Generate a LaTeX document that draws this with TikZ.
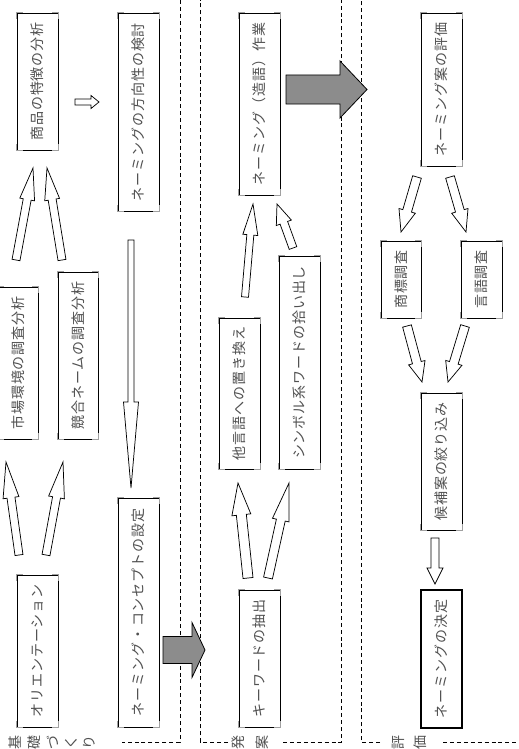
\documentclass[tikz,border=0pt]{standalone}
\usepackage{fontspec}
\usetikzlibrary{calc}
\newfontfamily\jp[LetterSpace=6.5]{Noto Sans CJK JP}
\definecolor{txt}{HTML}{505050}
\definecolor{cornr}{HTML}{A0A0A0}
\definecolor{garrow}{HTML}{8C8C8C}
\tikzset{
  box/.style 2 args={draw=black, line width=0.7pt, fill=white, rotate=90, inner sep=0pt,
    minimum width=#1*0.75pt, minimum height=#2*0.75pt,
    font=\jp\fontsize{10.5}{11}\selectfont, text=txt},
  hollow/.style={draw=black, line width=0.55pt, fill=white, line join=miter},
  solidarr/.style={draw=black, line width=0.6pt, fill=garrow, line join=miter},
  panel/.style={line width=0.6pt, dash pattern=on 3pt off 2.2pt},
  plabel/.style={rotate=90, inner sep=0pt, font=\jp\fontsize{10.5}{11}\selectfont, text=txt},
  cornermark/.style={draw=cornr, line width=1pt},
}
\newcommand\blkarrow[6]{%
  \pgfmathsetmacro\bas{#4*0.75}\pgfmathsetmacro\baw{#5*0.75}\pgfmathsetmacro\bah{#6*0.75}%
  \draw[#1] ($(#2)!\bas pt!90:(#3)$) -- ($(#3)!\bah pt!(#2)!\bas pt!90:(#3)$)
    -- ($(#3)!\bah pt!(#2)!\baw pt!90:(#3)$) -- (#3)
    -- ($(#3)!\bah pt!(#2)!\baw pt!-90:(#3)$) -- ($(#3)!\bah pt!(#2)!\bas pt!-90:(#3)$)
    -- ($(#2)!\bas pt!-90:(#3)$) -- cycle;}
\begin{document}
\begin{tikzpicture}[x=0.75pt,y=-0.75pt]
\useasboundingbox (0,0) rectangle (518,749);
% panels
\draw[panel] (180,0) -- (180,742) -- (122,742);
\draw[panel] (228,742) -- (200,742) -- (200,0);
\draw[panel] (283,742) -- (341,742) -- (341,0);
\draw[panel] (380,742) -- (361,742) -- (361,0);
\draw[panel] (443,742) -- (518,742);
% panel labels
\node[plabel] (l1) at (15,742) {基};
\node[plabel] (l2) at (34,742) {礎};
\node[plabel] (l3) at (53,742) {づ};
\node[plabel] (l4) at (71,742) {く};
\node[plabel] (l5) at (89,742) {り};
\node[plabel] (l6) at (238,742) {発};
\node[plabel] (l7) at (262,742) {案};
\node[plabel] (l8) at (398,742) {評};
\node[plabel] (l9) at (420,742) {価};
% boxes
\node[box={137}{41}] (n1) at (37.5,81.5) {商品の特徴の分析};
\node[box={198}{41}] (n2) at (138.5,112) {ネーミングの方向性の検討};
\node[box={152}{40}] (n3) at (18,363) {市場環境の調査分析};
\node[box={167}{40}] (n4) at (78,355.5) {競合ネームの調査分析};
\node[box={152}{41}] (n5) at (37.5,651) {オリエンテーション};
\node[box={229}{41}] (n6) at (138.5,612.5) {ネーミング・コンセプトの設定};
\node[box={182}{41}] (n7) at (259.5,104) {ネーミング（造語）作業};
\node[box={151}{41}] (n8) at (239.5,393.5) {他言語への置き換え};
\node[box={213}{41}] (n9) at (299.5,362.5) {シンボル系ワードの拾い出し};
\node[box={137}{41}] (n10) at (259.5,658.5) {キーワードの抽出};
\node[box={153}{41}] (n11) at (441.5,89.5) {ネーミング案の評価};
\node[box={77}{40}] (n12) at (401,279.5) {商標調査};
\node[box={77}{41}] (n13) at (481.5,279.5) {言語調査};
\node[box={137}{41}] (n14) at (441.5,461.5) {候補案の絞り込み};
\node[box={138}{41}, line width=1.6pt] (n15) at (441.5,659) {ネーミングの決定};
\foreach \n in {n1,n2,n3,n4,n5,n6,n7,n8,n9,n10,n11,n12,n13,n14} {
  \foreach \c/\a/\b in {north west/north east/south west,north east/north west/south east,south west/south east/north west,south east/south west/north east}
    \draw[cornermark] ($(\n.\c)!4.5pt!(\n.\a)$) -- (\n.\c) -- ($(\n.\c)!4.5pt!(\n.\b)$);
}
% arrow end points
\coordinate (a1t) at (16,260);   \coordinate (a1h) at (33,168);
\coordinate (a2t) at (62,260);   \coordinate (a2h) at (47,168);
\coordinate (a3t) at (19,555);   \coordinate (a3h) at (6,462);
\coordinate (a4t) at (46,555);   \coordinate (a4h) at (63,462);
\coordinate (a5t) at (75,102);   \coordinate (a5h) at (99,102);
\coordinate (a6t) at (131,240);  \coordinate (a6h) at (131,488);
\coordinate (a7t) at (163,650);  \coordinate (a7h) at (205,650);
\coordinate (a8t) at (286,89.5); \coordinate (a8h) at (367,89.5);
\coordinate (a9t) at (248,578);  \coordinate (a9h) at (238,483);
\coordinate (a10t) at (268,578); \coordinate (a10h) at (289,483);
\coordinate (a11t) at (245,297); \coordinate (a11h) at (253,204);
\coordinate (a12t) at (293,248); \coordinate (a12h) at (277,204);
\coordinate (a13t) at (417,177); \coordinate (a13h) at (401,232);
\coordinate (a14t) at (450,177); \coordinate (a14h) at (466,232);
\coordinate (a15t) at (407,326); \coordinate (a15h) at (422,382);
\coordinate (a16t) at (465,326); \coordinate (a16h) at (448,382);
\coordinate (a17t) at (435,538); \coordinate (a17h) at (435,584);
% arrows
\blkarrow{hollow}{a1t}{a1h}{4}{7.5}{32}
\blkarrow{hollow}{a2t}{a2h}{4}{7.5}{32}
\blkarrow{hollow}{a3t}{a3h}{4}{8}{36}
\blkarrow{hollow}{a4t}{a4h}{4}{8}{36}
\blkarrow{hollow}{a5t}{a5h}{3}{6.5}{8}
\blkarrow{hollow}{a6t}{a6h}{3}{7.5}{86}
\blkarrow{solidarr}{a7t}{a7h}{13.5}{27.5}{13}
\blkarrow{solidarr}{a8t}{a8h}{14.5}{28.5}{27}
\blkarrow{hollow}{a9t}{a9h}{5}{9.5}{32}
\blkarrow{hollow}{a10t}{a10h}{4.5}{8.5}{38}
\blkarrow{hollow}{a11t}{a11h}{3.5}{7.5}{31}
\blkarrow{hollow}{a12t}{a12h}{4}{8}{20}
\blkarrow{hollow}{a13t}{a13h}{4.5}{8.5}{22}
\blkarrow{hollow}{a14t}{a14h}{4.5}{8.5}{22}
\blkarrow{hollow}{a15t}{a15h}{4.5}{8.5}{20}
\blkarrow{hollow}{a16t}{a16h}{4.5}{8.5}{20}
\blkarrow{hollow}{a17t}{a17h}{4}{8}{16}
\end{tikzpicture}
\end{document}
